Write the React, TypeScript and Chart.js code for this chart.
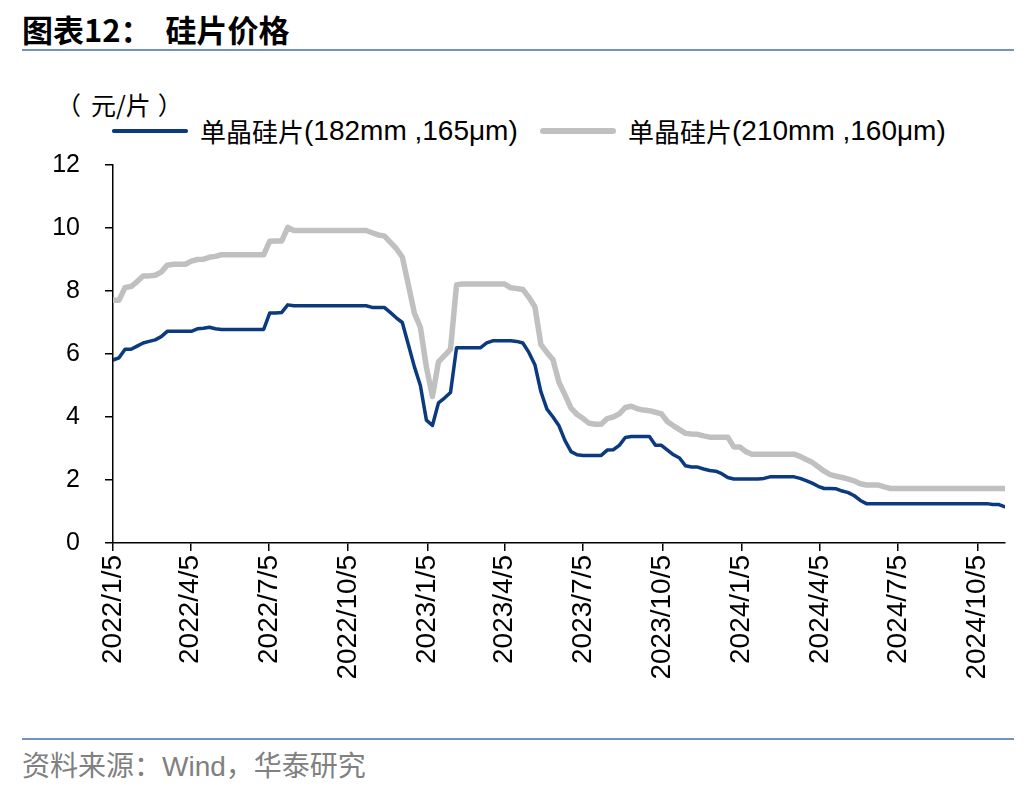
import React, { useEffect, useRef } from 'react';
import { Chart, registerables } from 'chart.js';

Chart.register(...registerables);

// ---------- data ----------
const START_DATE = '2022/1/5'; // first weekly observation
const TICK_LABELS = [
  '2022/1/5', '2022/4/5', '2022/7/5', '2022/10/5',
  '2023/1/5', '2023/4/5', '2023/7/5', '2023/10/5',
  '2024/1/5', '2024/4/5', '2024/7/5', '2024/10/5',
];
const Y_TICKS = [0, 2, 4, 6, 8, 10, 12];

const LABEL_182 = '单晶硅片(182mm ,165μm)';
const LABEL_210 = '单晶硅片(210mm ,160μm)';

// weekly prices, yuan per wafer
const SERIES_182 = [
  5.81, 5.88, 6.15, 6.15, 6.25, 6.35, 6.40, 6.45, 6.55, 6.72,
  6.72, 6.72, 6.72, 6.72, 6.80, 6.82, 6.85, 6.80, 6.78, 6.78,
  6.78, 6.78, 6.78, 6.78, 6.78, 6.78, 7.30, 7.30, 7.32, 7.56,
  7.53, 7.53, 7.53, 7.53, 7.53, 7.53, 7.53, 7.53, 7.53, 7.53,
  7.53, 7.53, 7.53, 7.48, 7.48, 7.48, 7.32, 7.15, 7.00, 6.30,
  5.60, 5.00, 3.90, 3.73, 4.45, 4.60, 4.78, 6.20, 6.20, 6.20,
  6.20, 6.20, 6.35, 6.42, 6.42, 6.42, 6.42, 6.40, 6.35, 6.05,
  5.66, 4.80, 4.25, 4.00, 3.72, 3.25, 2.90, 2.80, 2.78, 2.78,
  2.78, 2.78, 2.95, 2.96, 3.10, 3.35, 3.38, 3.38, 3.38, 3.38,
  3.10, 3.10, 2.95, 2.80, 2.70, 2.45, 2.41, 2.41, 2.35, 2.30,
  2.28, 2.20, 2.08, 2.03, 2.03, 2.03, 2.03, 2.03, 2.05, 2.10,
  2.10, 2.10, 2.10, 2.10, 2.05, 1.98, 1.90, 1.80, 1.73, 1.73,
  1.72, 1.65, 1.60, 1.50, 1.35, 1.25, 1.25, 1.25, 1.25, 1.25,
  1.25, 1.25, 1.25, 1.25, 1.25, 1.25, 1.25, 1.25, 1.25, 1.25,
  1.25, 1.25, 1.25, 1.25, 1.25, 1.25, 1.22, 1.22, 1.15,
];

const SERIES_210 = [
  7.71, 7.71, 8.11, 8.14, 8.30, 8.48, 8.48, 8.50, 8.60, 8.82,
  8.85, 8.85, 8.85, 8.95, 9.00, 9.01, 9.07, 9.10, 9.15, 9.15,
  9.15, 9.15, 9.15, 9.15, 9.15, 9.15, 9.58, 9.59, 9.59, 10.02,
  9.92, 9.92, 9.92, 9.92, 9.92, 9.92, 9.92, 9.92, 9.92, 9.92,
  9.92, 9.92, 9.92, 9.85, 9.78, 9.75, 9.55, 9.35, 9.08, 8.20,
  7.30, 6.85, 5.58, 4.65, 5.75, 5.95, 6.15, 8.20, 8.22, 8.22,
  8.22, 8.22, 8.22, 8.22, 8.22, 8.22, 8.10, 8.08, 8.05, 7.80,
  7.50, 6.30, 6.05, 5.82, 5.10, 4.70, 4.28, 4.08, 3.95, 3.80,
  3.77, 3.77, 3.95, 4.00, 4.10, 4.30, 4.34, 4.26, 4.22, 4.20,
  4.15, 4.10, 3.85, 3.72, 3.60, 3.48, 3.46, 3.45, 3.40, 3.36,
  3.36, 3.36, 3.36, 3.05, 3.05, 2.90, 2.82, 2.82, 2.82, 2.82,
  2.82, 2.82, 2.82, 2.82, 2.75, 2.65, 2.56, 2.42, 2.28, 2.17,
  2.12, 2.08, 2.03, 1.97, 1.88, 1.84, 1.84, 1.84, 1.78, 1.73,
  1.73, 1.73, 1.73, 1.73, 1.73, 1.73, 1.73, 1.73, 1.73, 1.73,
  1.73, 1.73, 1.73, 1.73, 1.73, 1.73, 1.73, 1.73, 1.73,
];

// ---------- helpers ----------
const dayOf = (s: string) => {
  const [y, m, d] = s.split('/').map(Number);
  const [y0, m0, d0] = START_DATE.split('/').map(Number);
  return Math.round((Date.UTC(y, m - 1, d) - Date.UTC(y0, m0 - 1, d0)) / 86400000);
};
const WEEK_X = SERIES_182.map((_, i) => i * 7); // weekly sampling, days since start
const TICK_DAYS = TICK_LABELS.map(dayOf);
const LAST_DAY = WEEK_X[WEEK_X.length - 1];

const BLUE = '#0b3a7e';
const GRAY = '#c0c0c0';
const SEP = '#7093c4';
const LATIN = '"Liberation Sans", Arial, "Noto Sans CJK SC", sans-serif';
const CJK = '"Noto Sans CJK SC", "Liberation Sans", sans-serif';

const noTrim: any = { textSpacingTrim: 'space-all' };

export default function App() {
  const ref = useRef<HTMLCanvasElement | null>(null);

  useEffect(() => {
    const canvas = ref.current;
    if (!canvas) return;
    const axisFont = { family: '"Liberation Sans", Arial, sans-serif', size: 25 };
    const chart = new Chart(canvas, {
      type: 'line',
      data: {
        datasets: [
          {
            label: LABEL_182,
            data: WEEK_X.map((x, i) => ({ x, y: SERIES_182[i] })),
            borderColor: BLUE,
            backgroundColor: BLUE,
            borderWidth: 3.5,
            pointRadius: 0,
            tension: 0,
            borderJoinStyle: 'round',
            borderCapStyle: 'round',
          },
          {
            label: LABEL_210,
            data: WEEK_X.map((x, i) => ({ x, y: SERIES_210[i] })),
            borderColor: GRAY,
            backgroundColor: GRAY,
            borderWidth: 5.5,
            pointRadius: 0,
            tension: 0,
            borderJoinStyle: 'round',
            borderCapStyle: 'round',
          },
        ],
      },
      options: {
        animation: false,
        responsive: false,
        layout: { padding: { top: 24, right: 31, bottom: 0, left: 0 } },
        plugins: { legend: { display: false }, tooltip: { enabled: false } },
        scales: {
          x: {
            type: 'linear',
            min: 0,
            max: LAST_DAY,
            afterBuildTicks: (s: any) => {
              s.ticks = TICK_DAYS.map((v) => ({ value: v }));
            },
            afterFit: (s: any) => {
              s.height = 157;
            },
            ticks: {
              autoSkip: false,
              minRotation: 90,
              maxRotation: 90,
              padding: 4,
              color: '#000',
              font: { ...axisFont, size: 28 },
              callback: (v: any) => {
                const k = TICK_DAYS.indexOf(Number(v));
                return k >= 0 ? TICK_LABELS[k] : '';
              },
            },
            grid: {
              display: true,
              drawOnChartArea: false,
              drawTicks: true,
              tickLength: 8,
              color: '#000',
              lineWidth: 1.5,
            },
            border: { display: true, color: '#000', width: 1.5 },
          },
          y: {
            min: 0,
            max: 12,
            afterBuildTicks: (s: any) => {
              s.ticks = Y_TICKS.map((v) => ({ value: v }));
            },
            afterFit: (s: any) => {
              s.width = 113;
            },
            ticks: { padding: 25, color: '#000', font: axisFont },
            grid: {
              display: true,
              drawOnChartArea: false,
              drawTicks: true,
              tickLength: 8,
              color: '#000',
              lineWidth: 1.5,
            },
            border: { display: true, color: '#000', width: 1.5 },
          },
        },
      },
    } as any);
    return () => chart.destroy();
  }, []);

  const legendItem = (label: string, color: string, thick: number, left: number) => {
    const p = label.indexOf('(');
    return (
      <div style={{ position: 'absolute', left, top: 114, height: 34, display: 'flex', alignItems: 'center', whiteSpace: 'nowrap' }}>
        <div style={{ width: 76, height: thick, background: color, borderRadius: thick / 2, marginRight: 12 }} />
        <span style={{ fontFamily: CJK, fontSize: 26, color: '#000', lineHeight: '34px' }}>{label.slice(0, p)}</span>
        <span style={{ fontFamily: LATIN, fontSize: 28, color: '#000', lineHeight: '34px' }}>{label.slice(p)}</span>
      </div>
    );
  };

  return (
    <div style={{ position: 'absolute', left: 0, top: 0, width: 1036, height: 792, background: '#fff', overflow: 'hidden' }}>
      <div style={{ position: 'absolute', left: 22, top: 10, fontFamily: CJK, fontWeight: 700, fontSize: 31, lineHeight: '38px', color: '#000', whiteSpace: 'nowrap', ...noTrim }}>
        <span>图表12：</span>
        <span style={{ marginLeft: 14 }}>硅片价格</span>
      </div>
      <div style={{ position: 'absolute', left: 22, top: 49, width: 992, height: 2, background: SEP }} />

      <div style={{ position: 'absolute', left: 56, top: 88, fontFamily: CJK, fontSize: 25, lineHeight: '32px', color: '#000', whiteSpace: 'nowrap', display: 'flex', ...noTrim }}>
        <span>（</span>
        <span style={{ marginLeft: 10 }}>元/片</span>
        <span style={{ marginLeft: 7 }}>）</span>
      </div>
      {legendItem(LABEL_182, BLUE, 3.5, 112)}
      {legendItem(LABEL_210, GRAY, 6, 540)}

      <canvas ref={ref} width={1036} height={575} style={{ position: 'absolute', left: 0, top: 125, width: 1036, height: 575 }} />

      <div style={{ position: 'absolute', left: 22, top: 738, width: 992, height: 2, background: SEP }} />
      <div style={{ position: 'absolute', left: 22, top: 747, fontFamily: CJK, fontSize: 28, lineHeight: '34px', color: '#808080', whiteSpace: 'nowrap', ...noTrim }}>
        资料来源：<span style={{ fontFamily: LATIN }}>Wind</span>，华泰研究
      </div>
    </div>
  );
}
